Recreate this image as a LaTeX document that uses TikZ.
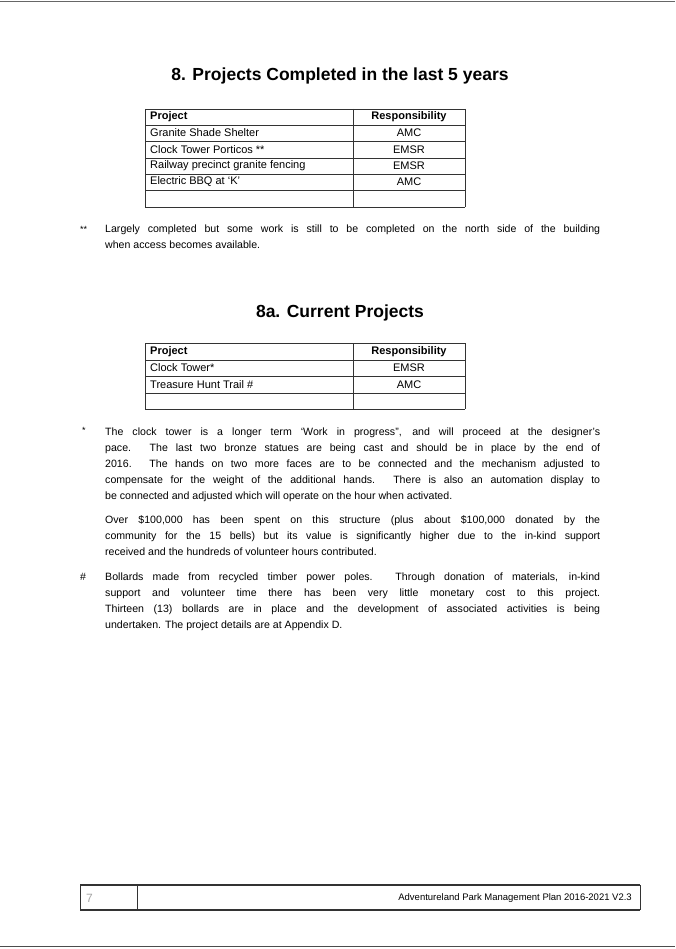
\documentclass[tikz,border=0pt]{standalone}
\usepackage{fontspec}
\setmainfont{Liberation Sans}
\begin{document}
\begin{tikzpicture}[x=1pt,y=-1pt,
  cell/.style={anchor=west,font=\fontsize{11}{13}\selectfont,inner sep=0pt},
  ccell/.style={anchor=center,font=\fontsize{11}{13}\selectfont,inner sep=0pt},
  para/.style={anchor=north west,inner sep=0pt,text width=495pt,align=justify,font=\fontsize{10.6}{16}\selectfont},
  ttl/.style={font=\bfseries\fontsize{17.5}{20}\selectfont,inner sep=0pt},
  tb/.style={line width=0.7pt,black!80}]
\useasboundingbox (0,0) rectangle (675,949);
\fill[white] (0,0) rectangle (675,949);
\draw[black!60,line width=0.6pt] (0,1) -- (675,1);
\draw[black!70,line width=1pt] (0,946) -- (675,946);
% Title 1
\node[ttl] (t1) at (340,76) {8. Projects Completed in the last 5 years};
% Table 1
\foreach \y in {109,125,141,158,174,190,207} \draw[tb] (145,\y) -- (465,\y);
\draw[tb] (145,109) -- (145,207);
\draw[tb] (465,109) -- (465,207);
\draw[tb] (353,109) -- (353,207);
\node[cell,font=\bfseries\fontsize{11}{13}\selectfont] (h1) at (150,117) {Project};
\node[ccell,font=\bfseries\fontsize{11}{13}\selectfont] (h2) at (409,117) {Responsibility};
\node[cell] (a1) at (150,133) {Granite Shade Shelter};
\node[ccell] (b1) at (409,133) {AMC};
\node[cell] (a2) at (150,149.5) {Clock Tower Porticos **};
\node[ccell] (b2) at (409,149.5) {EMSR};
\node[cell] (a3) at (150,166) {Railway precinct granite fencing};
\node[ccell] (b3) at (409,166) {EMSR};
\node[cell] (a4) at (150,182) {Electric BBQ at `K'};
\node[ccell] (b4) at (409,182) {AMC};
% note
\node[anchor=north west,inner sep=0pt,font=\fontsize{9}{10}\selectfont] (s1) at (80,226) {**};
\node[para] (p0) at (105,225) {Largely completed but some work is still to be completed on the north side of the building\linebreak when access becomes available.};
% Title 2
\node[ttl] (t2) at (340,313) {8a. Current Projects};
\foreach \y in {343,360,376,393,409} \draw[tb] (145,\y) -- (465,\y);
\draw[tb] (145,343) -- (145,409);
\draw[tb] (465,343) -- (465,409);
\draw[tb] (353,343) -- (353,409);
\node[cell,font=\bfseries\fontsize{11}{13}\selectfont] (h3) at (150,351.5) {Project};
\node[ccell,font=\bfseries\fontsize{11}{13}\selectfont] (h4) at (409,351.5) {Responsibility};
\node[cell] (c1) at (150,368) {Clock Tower*};
\node[ccell] (d1) at (409,368) {EMSR};
\node[cell] (c2) at (150,384.5) {Treasure Hunt Trail \#};
\node[ccell] (d2) at (409,384.5) {AMC};
% paragraphs
\node[anchor=north west,inner sep=0pt,font=\fontsize{9}{10}\selectfont] (s2) at (82,427) {*};
\node[para] (p1) at (105,428) {The clock tower is a longer term `Work in progress'', and will proceed at the designer's\linebreak pace. The last two bronze statues are being cast and should be in place by the end of\linebreak 2016. The hands on two more faces are to be connected and the mechanism adjusted to\linebreak compensate for the weight of the additional hands. There is also an automation display to\linebreak be connected and adjusted which will operate on the hour when activated.};
\node[para] (p2) at (105,515) {Over \$100,000 has been spent on this structure (plus about \$100,000 donated by the\linebreak community for the 15 bells) but its value is significantly higher due to the in-kind support\linebreak received and the hundreds of volunteer hours contributed.};
\node[anchor=north west,inner sep=0pt,font=\fontsize{10.6}{16}\selectfont] (s3) at (80,573) {\#};
\node[para] (p3) at (105,573) {Bollards made from recycled timber power poles. Through donation of materials, in-kind\linebreak support and volunteer time there has been very little monetary cost to this project.\linebreak Thirteen (13) bollards are in place and the development of associated activities is being\linebreak undertaken. The project details are at Appendix D.};
% footer
\draw[black!80,line width=1.4pt] (80,885) -- (640,885);
\draw[black!80,line width=1.4pt] (80,910) -- (640,910);
\draw[black!80,line width=0.8pt] (80,885) -- (80,910);
\draw[black!80,line width=0.8pt] (640,885) -- (640,910);
\draw[black!80,line width=1pt] (137,885) -- (137,910);
\node[anchor=west,inner sep=0pt,text=black!35,font=\fontsize{12}{14}\selectfont] (pg) at (86,898) {7};
\node[anchor=east,inner sep=0pt,font=\fontsize{9.5}{12}\selectfont] (ft) at (632,898) {Adventureland Park Management Plan 2016-2021 V2.3};
\end{tikzpicture}
\end{document}
